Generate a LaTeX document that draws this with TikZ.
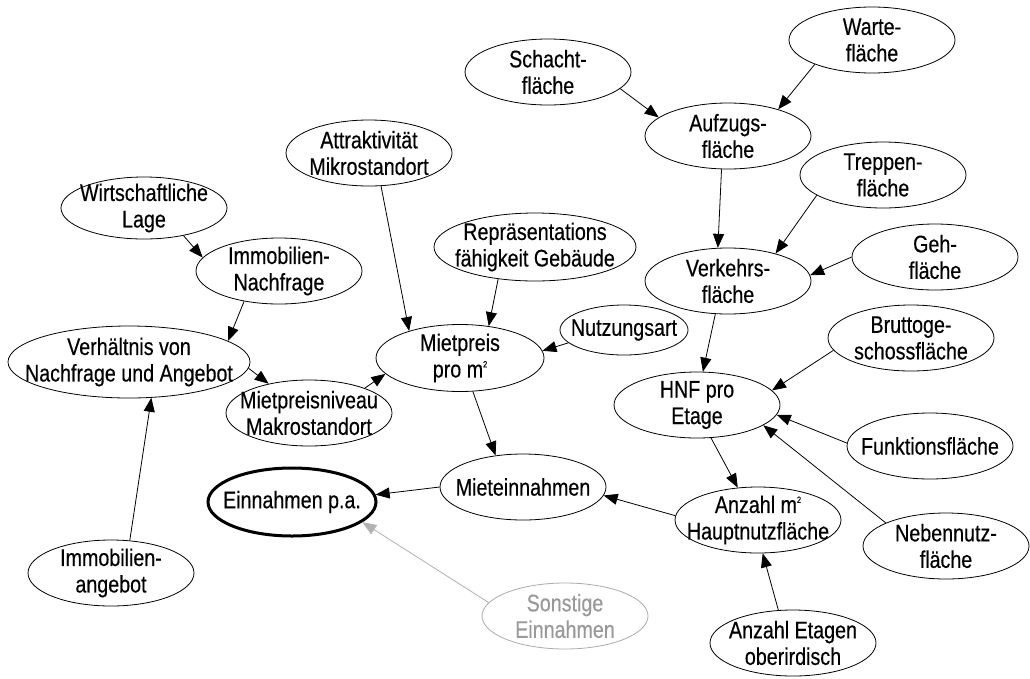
\documentclass[tikz,border=0pt]{standalone}
\usepackage{fontspec}
\setmainfont{Liberation Sans}[FakeStretch=0.82, FakeBold=0.35]
\usetikzlibrary{shapes.geometric,arrows.meta}

% small raised "2" for square metres
\newcommand\sqm{m\raisebox{0.42em}{\fontsize{9}{9}\selectfont 2}}

\begin{document}
\begin{tikzpicture}[x=1pt,y=-1pt,
  ell/.style={ellipse, draw, line width=0.8pt, minimum width=166pt,
              minimum height=66pt, inner sep=0pt},
  txt/.style={font=\fontsize{24}{26.5}\selectfont, align=center, text=black},
  arr/.style={line width=0.8pt, -{Triangle[length=14pt,width=11pt]}},
  faint/.style={draw=black!33},
]
\useasboundingbox (0,0) rectangle (1030,678);

% ---- nodes ----
\node[ell, label={[txt]center:{Warte-\\fläche}}] (warte) at (872,40) {};
\node[ell, label={[txt]center:{Schacht-\\fläche}}] (schacht) at (548,72) {};
\node[ell, label={[txt]center:{Aufzugs-\\fläche}}] (aufzug) at (728,136) {};
\node[ell, label={[txt]center:{Treppen-\\fläche}}] (treppen) at (883,175) {};
\node[ell, label={[txt]center:{Attraktivität\\Mikrostandort}}] (attr) at (369,153) {};
\node[ell, minimum height=62pt, label={[txt]center:{Wirtschaftliche\\Lage}}] (wirt) at (144,208) {};
\node[ell, label={[txt]center:{Geh-\\fläche}}] (geh) at (935,257) {};
\node[ell, minimum width=202pt, minimum height=68pt,
      label={[txt]center:{Repräsentations\\fähigkeit Gebäude}}] (repr) at (535,247) {};
\node[ell, label={[txt]center:{Verkehrs-\\fläche}}] (verkehr) at (728,281) {};
\node[ell, label={[txt]center:{Immobilien-\\Nachfrage}}] (immon) at (279,271) {};
\node[ell, minimum width=128pt, minimum height=50pt,
      label={[txt]center:{Nutzungsart}}] (nutz) at (624,330) {};
\node[ell, label={[txt]center:{Bruttoge-\\schossfläche}}] (brutto) at (911,338) {};
\node[ell, minimum width=242pt, minimum height=72pt,
      label={[txt]center:{Verhältnis von\\Nachfrage und Angebot}}] (verh) at (129,362) {};
\node[ell, minimum width=168pt, minimum height=67pt,
      label={[txt]center:{Mietpreis\\pro \sqm}}] (miet) at (460,358) {};
\node[ell, label={[txt]center:{HNF pro\\Etage}}] (hnf) at (697,405) {};
\node[ell, label={[txt]center:{Mietpreisniveau\\Makrostandort}}] (mpn) at (309,413) {};
\node[ell, label={[txt]center:{Funktionsfläche}}] (funk) at (930,446) {};
\node[ell, label={[txt]center:{Mieteinnahmen}}] (mein) at (523,487) {};
\node[ell, line width=3pt, minimum width=168pt, minimum height=68pt,
      label={[txt]center:{Einnahmen p.a.}}] (einp) at (292,502) {};
\node[ell, label={[txt]center:{Anzahl \sqm\\Hauptnutzfläche}}] (anz) at (758,520) {};
\node[ell, label={[txt]center:{Nebennutz-\\fläche}}] (neben) at (946,546) {};
\node[ell, label={[txt]center:{Immobilien-\\angebot}}] (angebot) at (111,573) {};
\node[ell, faint, label={[txt, text=black!40]center:{Sonstige\\Einnahmen}}] (sonst) at (565,616) {};
\node[ell, label={[txt]center:{Anzahl Etagen\\oberirdisch}}] (etagen) at (793,643) {};

% ---- connectors ----
\draw[arr] (schacht.-13) -- (aufzug.165);
\draw[arr] (warte.-157) -- (aufzug.28);
\draw[arr] (aufzug.-101) -- (verkehr.107);
\draw[arr] (treppen.-163) -- (verkehr.30);
\draw[arr] (geh.180) -- (verkehr.4);
\draw[arr] (verkehr.-111) -- (hnf.80);
\draw[arr] (brutto.-171) -- (hnf.11);
\draw[arr] (funk.178) -- (hnf.-7);
\draw[arr] (neben.159) -- (hnf.-17);
\draw[arr] (hnf.-67) -- (anz.122);
\draw[arr] (etagen.114) -- (anz.-82);
\draw[arr] (anz.177) -- (mein.-6);
\draw[arr] (mein.180) -- (einp.5);
\draw[arr, draw=black!30, fill=black!30] (sonst.170) -- (einp.-16);
\draw[arr] (miet.-69) -- (mein.131);
\draw[arr] (nutz.-167) -- (miet.5);
\draw[arr] (repr.-139) -- (miet.48);
\draw[arr] (attr.-70) -- (miet.152);
\draw[arr] (mpn.24) -- (miet.-168);
\draw[arr] (wirt.-35) -- (immon.170);
\draw[arr] (immon.-139) -- (verh.12);
\draw[arr] (verh.-3) -- (mpn.144);
\draw[arr] (angebot.60) -- (verh.-58);
\end{tikzpicture}
\end{document}
